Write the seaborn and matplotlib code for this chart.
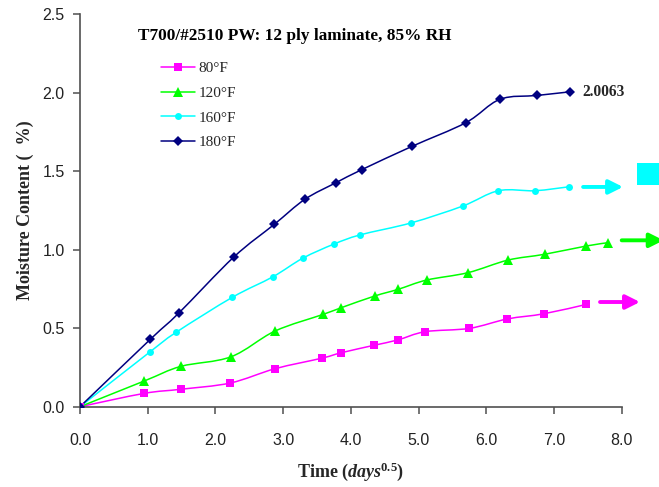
import matplotlib
matplotlib.use("Agg")
import matplotlib.pyplot as plt
from matplotlib.path import Path
from matplotlib.patches import PathPatch
import seaborn as sns
import numpy as np
import pandas as pd

# Moisture uptake of T700/#2510 plain-weave laminate at 85% RH
t80 = [0.0, 0.95, 1.49, 2.22, 2.88, 3.58, 3.86, 4.34, 4.69, 5.10, 5.75, 6.31, 6.85, 7.48]
m80 = [0.0, 0.085, 0.111, 0.151, 0.242, 0.310, 0.344, 0.391, 0.425, 0.478, 0.499, 0.559, 0.592, 0.652]

t120 = [0.0, 0.95, 1.49, 2.23, 2.88, 3.59, 3.86, 4.35, 4.70, 5.12, 5.73, 6.32, 6.86, 7.48, 7.80]
m120 = [0.0, 0.164, 0.257, 0.318, 0.482, 0.588, 0.631, 0.705, 0.748, 0.807, 0.854, 0.934, 0.971, 1.024, 1.045]

t160 = [0.0, 1.03, 1.42, 2.25, 2.85, 3.29, 3.75, 4.14, 4.89, 5.65, 6.18, 6.72, 7.22]
m160 = [0.0, 0.348, 0.474, 0.697, 0.828, 0.946, 1.036, 1.095, 1.171, 1.278, 1.376, 1.376, 1.401]

t180 = [0.0, 1.04, 1.46, 2.27, 2.87, 3.32, 3.78, 4.16, 4.91, 5.70, 6.20, 6.75, 7.24]
m180 = [0.0, 0.430, 0.597, 0.953, 1.162, 1.321, 1.427, 1.510, 1.660, 1.810, 1.958, 1.983, 2.0063]

labels = ["80°F", "120°F", "160°F", "180°F"]
colors = ["#FF00FF", "#00FF00", "#00FFFF", "#000080"]
markers = ["s", "^", "o", "D"]
msizes = [5.5, 6.5, 5, 5.5]

x_ticks = [0.0, 1.0, 2.0, 3.0, 4.0, 5.0, 6.0, 7.0, 8.0]
y_ticks = [0.0, 0.5, 1.0, 1.5, 2.0, 2.5]

series_t = [t80, t120, t160, t180]
series_m = [m80, m120, m160, m180]

frames = []
for lab, t, m in zip(labels, series_t, series_m):
    frames.append(pd.DataFrame({"time": t, "moisture": m, "temp": lab}))
df = pd.concat(frames, ignore_index=True)


def smooth_path(x, y):
    """Cubic Bezier path through the points (Catmull-Rom style tangents)."""
    p = np.column_stack([x, y]).astype(float)
    n = len(p)
    verts = [p[0]]
    codes = [Path.MOVETO]
    for i in range(n - 1):
        p0 = p[i - 1] if i > 0 else p[i]
        p1, p2 = p[i], p[i + 1]
        p3 = p[i + 2] if i + 2 < n else p[i + 1]
        c1 = p1 + (p2 - p0) / 6.0
        c2 = p2 - (p3 - p1) / 6.0
        verts += [c1, c2, p2]
        codes += [Path.CURVE4] * 3
    return Path(verts, codes)


sns.set_theme(style="white")
plt.rcParams["mathtext.fontset"] = "custom"
plt.rcParams["mathtext.rm"] = "Liberation Serif:bold"
plt.rcParams["mathtext.it"] = "Liberation Serif:italic"
plt.rcParams["mathtext.bf"] = "Liberation Serif:bold"
plt.rcParams["mathtext.bfit"] = "Liberation Serif:bold:italic"

fig = plt.figure(figsize=(6.59, 4.87), dpi=100)
ax = fig.add_axes([80 / 659, 1 - 406.7 / 487, 541.7 / 659, 392.4 / 487])

sns.lineplot(data=df, x="time", y="moisture", hue="temp", style="temp",
             hue_order=labels, style_order=labels,
             palette=dict(zip(labels, colors)),
             markers=dict(zip(labels, markers)), dashes=False,
             estimator=None, sort=False, linewidth=1.1,
             markeredgewidth=0, ax=ax, legend=False)

series_lines = list(ax.lines[:4])
for line, ms in zip(series_lines, msizes):
    line.set_markersize(ms)
    line.set_zorder(3)

ax.set_xlim(0, 8)
ax.set_ylim(0, 2.5)
ax.set_xticks(x_ticks)
ax.set_yticks(y_ticks)
ax.set_xticklabels([f"{v:.1f}" for v in x_ticks])
ax.set_yticklabels([f"{v:.1f}" for v in y_ticks])

for side in ["top", "right"]:
    ax.spines[side].set_visible(False)
for side in ["left", "bottom"]:
    ax.spines[side].set_color("#505050")
    ax.spines[side].set_linewidth(1.2)

ax.tick_params(axis="both", which="major", direction="out", length=5,
               width=1.1, color="#505050", labelsize=11.5, labelcolor="#222222",
               bottom=True, left=True)
ax.tick_params(axis="x", pad=14)
ax.tick_params(axis="y", pad=6)
for lbl in ax.get_xticklabels() + ax.get_yticklabels():
    lbl.set_fontfamily("Liberation Sans")

ax.set_xlabel(r"Time ($\mathbfit{days}^{\mathit{0.5}}$)", fontsize=13,
              fontfamily="Liberation Serif", fontweight="bold", labelpad=9)
ax.set_ylabel("Moisture Content (  %)", fontsize=13,
              fontfamily="Liberation Serif", fontweight="bold", labelpad=6)

ax.text(0.107, 0.945, "T700/#2510 PW: 12 ply laminate, 85% RH",
        transform=ax.transAxes, ha="left", va="center", fontsize=12.4,
        fontfamily="Liberation Serif", fontweight="bold", color="black")

leg = ax.legend(handles=series_lines, labels=labels, loc="upper left",
                bbox_to_anchor=(0.136, 0.899), frameon=False,
                handlelength=2.2, handletextpad=0.25, labelspacing=0.72,
                borderpad=0, prop={"family": "Liberation Serif", "size": 11})

# Smoothed connecting curves; markers stay on the seaborn lines
for line, t, m, c in zip(series_lines, series_t, series_m, colors):
    line.set_linestyle("none")
    ax.add_patch(PathPatch(smooth_path(t, m), facecolor="none", edgecolor=c,
                           lw=1.1, zorder=2))

ax.annotate("2.0063", xy=(t180[-1], m180[-1]), xytext=(8.5, 0),
            textcoords="offset points", ha="left", va="center",
            fontsize=11.2, fontfamily="Liberation Serif", fontweight="bold")

arrow_kw = dict(arrowstyle="-|>,head_length=0.7,head_width=0.35", lw=2.8,
                shrinkA=0, shrinkB=0)
ax.annotate("", xy=(8.02, 1.40), xytext=(7.43, 1.40), annotation_clip=False,
            arrowprops=dict(color=colors[2], **arrow_kw))
ax.annotate("", xy=(8.62, 1.06), xytext=(8.0, 1.06), annotation_clip=False,
            arrowprops=dict(color=colors[1], **arrow_kw))
ax.annotate("", xy=(8.27, 0.667), xytext=(7.68, 0.667), annotation_clip=False,
            arrowprops=dict(color=colors[0], **arrow_kw))
ax.plot([8.39], [1.482], marker="s", markersize=16.5, color=colors[2],
        markeredgewidth=0, clip_on=False)

fig.savefig("out.png", dpi=100)
